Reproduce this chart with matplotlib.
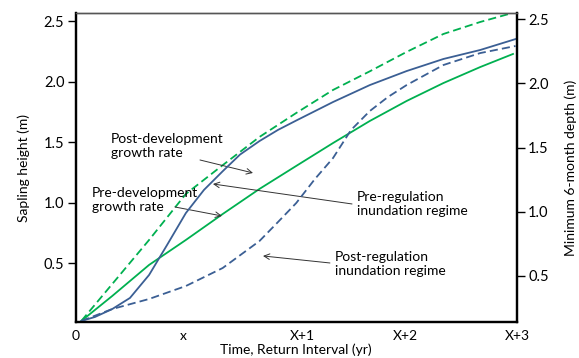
import matplotlib
matplotlib.use("Agg")
import matplotlib.pyplot as plt

plt.rcParams['font.family'] = ['Lato', 'DejaVu Sans']

# x positions of the category ticks (0, x, X+1, X+2, X+3)
tick_pos = [0.0, 0.73, 1.545, 2.245, 3.0]
tick_labels = ['0', 'x', 'X+1', 'X+2', 'X+3']

# growth rates -> sapling height (left axis)
x_green_dash = [0.04, 0.25, 0.5, 0.75, 1.0, 1.25, 1.5, 1.75, 2.0, 2.25, 2.5, 2.75, 2.945]
post_dev = [0.025, 0.330, 0.693, 1.073, 1.310, 1.543, 1.741, 1.931, 2.085, 2.245, 2.393, 2.492, 2.558]

x_green = [0.04, 0.25, 0.5, 0.75, 1.0, 1.25, 1.5, 1.75, 2.0, 2.25, 2.5, 2.75, 2.973]
pre_dev = [0.025, 0.231, 0.487, 0.693, 0.907, 1.114, 1.304, 1.493, 1.675, 1.840, 1.988, 2.120, 2.228]

# inundation regimes -> minimum 6-month depth (right axis)
x_blue = [0.04, 0.1325, 0.25, 0.37, 0.5, 0.622, 0.75, 0.873, 1.0, 1.118, 1.25, 1.376, 1.5,
          1.75, 2.0, 2.25, 2.5, 2.75, 2.99]
pre_reg = [0.150, 0.181, 0.243, 0.329, 0.508, 0.741, 0.990, 1.170, 1.315, 1.445, 1.550, 1.637,
           1.710, 1.854, 1.986, 2.095, 2.189, 2.259, 2.344]

x_blue_dash = [0.04, 0.25, 0.5, 0.75, 1.0, 1.25, 1.376, 1.5, 1.627, 1.75, 1.872, 2.0,
               2.123, 2.25, 2.5, 2.75, 2.99]
post_reg = [0.150, 0.243, 0.321, 0.422, 0.562, 0.772, 0.920, 1.068, 1.255, 1.418, 1.636,
            1.784, 1.893, 1.986, 2.142, 2.235, 2.290]

green = '#00b050'
blue = '#3b5f94'

fig = plt.figure(figsize=(5.79, 3.58), dpi=100)
ax = fig.add_axes([0.1304, 0.1006, 0.7625, 0.8617])
ax2 = ax.twinx()

ax.plot(x_green_dash, post_dev, color=green, lw=1.3, dashes=(4.5, 2.3))
ax.plot(x_green, pre_dev, color=green, lw=1.3)
ax2.plot(x_blue, pre_reg, color=blue, lw=1.3)
ax2.plot(x_blue_dash, post_reg, color=blue, lw=1.3, dashes=(4.5, 2.3))

ax.set_xlim(0, 3)
ax.set_ylim(0.016, 2.562)
ax2.set_ylim(0.142, 2.543)

ax.set_xticks(tick_pos)
ax.set_xticklabels(tick_labels)
ax.tick_params(axis='x', length=0, pad=6, labelsize=10)
ax.set_yticks([0.5, 1.0, 1.5, 2.0, 2.5])
ax.set_yticklabels(['0.5', '1.0', '1.5', '2.0', '2.5'])
ax.tick_params(axis='y', length=6, width=1, pad=2, labelsize=10.5)
ax2.set_yticks([0.5, 1.0, 1.5, 2.0, 2.5])
ax2.set_yticklabels(['0.5', '1.0', '1.5', '2.0', '2.5'])
ax2.tick_params(axis='y', length=6, width=1, pad=2, labelsize=10.5)

for a in (ax, ax2):
    for s in ('left', 'bottom', 'right'):
        a.spines[s].set_linewidth(1.6)
        a.spines[s].set_color('black')
    a.spines['top'].set_linewidth(1.0)
    a.spines['top'].set_color('#555555')

ax.set_ylabel('Sapling height (m)', fontsize=10, labelpad=10)
ax2.set_ylabel('Minimum 6-month depth (m)', fontsize=10, labelpad=11, rotation=90)
ax.set_xlabel('Time, Return Interval (yr)', fontsize=10, labelpad=1)

arrow = dict(arrowstyle='->', color='#333333', lw=0.7, shrinkA=0, shrinkB=0)
ax.text(0.241, 1.465, 'Post-development\ngrowth rate', fontsize=10, va='center', ha='left', linespacing=1.2)
ax.annotate('', xy=(1.206, 1.246), xytext=(0.846, 1.353), arrowprops=arrow)

ax.text(0.112, 1.023, 'Pre-development\ngrowth rate', fontsize=10, va='center', ha='left', linespacing=1.2)
ax.annotate('', xy=(0.995, 0.891), xytext=(0.676, 0.965), arrowprops=arrow)

ax.text(1.913, 0.990, 'Pre-regulation\ninundation regime', fontsize=10, va='center', ha='left', linespacing=1.2)
ax.annotate('', xy=(0.934, 1.155), xytext=(1.879, 0.990), arrowprops=arrow)

ax.text(1.763, 0.495, 'Post-regulation\ninundation regime', fontsize=10, va='center', ha='left', linespacing=1.2)
ax.annotate('', xy=(1.274, 0.561), xytext=(1.729, 0.503), arrowprops=arrow)

fig.savefig('out.png', dpi=100)
